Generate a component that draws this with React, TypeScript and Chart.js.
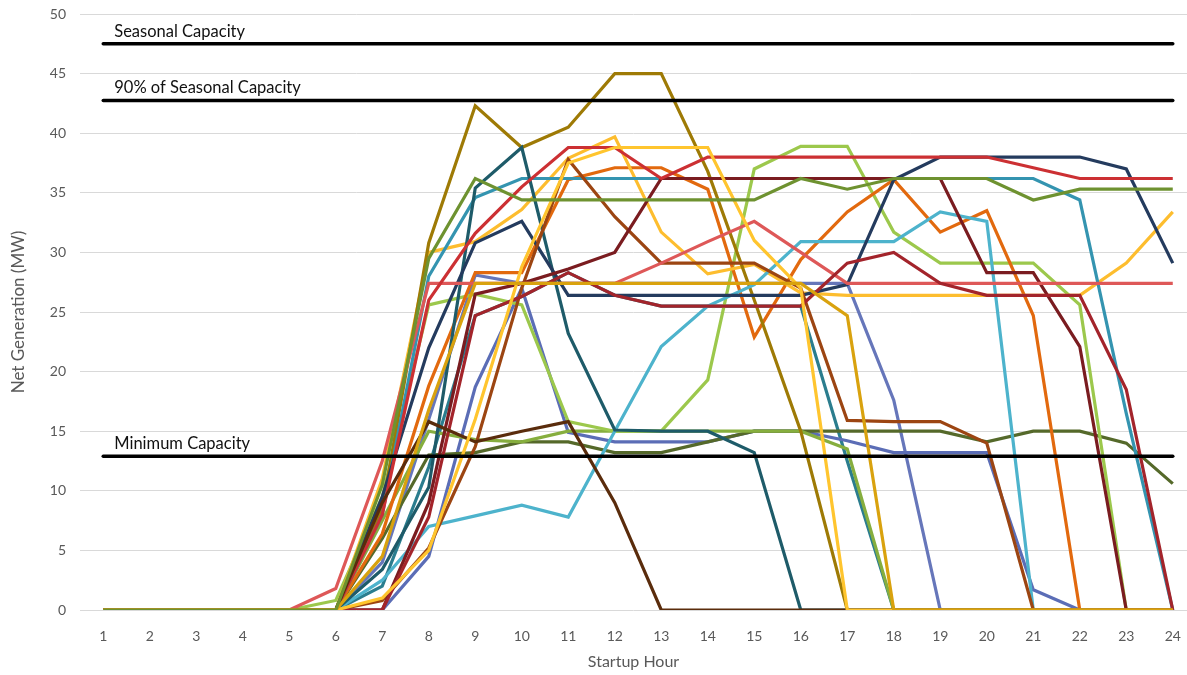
import React, { useEffect, useRef } from "react";
import { Chart, registerables } from "chart.js";

Chart.register(...registerables);

// ---- Data ----
const hours = [1, 2, 3, 4, 5, 6, 7, 8, 9, 10, 11, 12, 13, 14, 15, 16, 17, 18, 19, 20, 21, 22, 23, 24];
const yTicks = [0, 5, 10, 15, 20, 25, 30, 35, 40, 45, 50];

const refLabels = ["Seasonal Capacity", "90% of Seasonal Capacity", "Minimum Capacity"];
const refValues = [47.5, 42.75, 12.9];

const green = [0, 0, 0, 0, 0, 0, 10.5, 29.5, 36.2, 34.4, 34.4, 34.4, 34.4, 34.4, 34.4, 36.2, 35.3, 36.2, 36.2, 36.2, 34.4, 35.3, 35.3, 35.3];
const amber = [0, 0, 0, 0, 0, 0, 4.5, 16.8, 27.4, 27.4, 27.4, 27.4, 27.4, 27.4, 27.4, 27.4, 24.7, 0, 0, 0, 0, 0, 0, 0];
const yellowB = [0, 0, 0, 0, 0, 0, 1, 5, 16, 28.8, 37.5, 38.8, 38.8, 38.8, 31, 27, 0, 0, 0, 0, 0, 0, 0, 0];
const darkBrown = [0, 0, 0, 0, 0, 0, 9, 15.8, 14.1, 15, 15.8, 9, 0, 0, 0, 0, 0, 0, 0, 0, 0, 0, 0, 0];
const crimson = [0, 0, 0, 0, 0, 0, 0, 7.8, 24.7, 26.3, 28.3, 26.4, 25.5, 25.5, 25.5, 25.5, 29.1, 30, 27.4, 26.4, 26.4, 26.4, 18.5, 0];
const red = [0, 0, 0, 0, 0, 0, 8, 26, 31.6, 35.5, 38.8, 38.8, 36.2, 38, 38, 38, 38, 38, 38, 38, 37.1, 36.2, 36.2, 36.2];
const coral = [0, 0, 0, 0, 0, 1.8, 12.5, 27.4, 27.4, 27.4, 27.4, 27.4, 29.1, 30.9, 32.6, 30, 27.4, 27.4, 27.4, 27.4, 27.4, 27.4, 27.4, 27.4];
const maroon = [0, 0, 0, 0, 0, 0, 0, 9, 26.5, 27.4, 28.6, 30, 36.2, 36.2, 36.2, 36.2, 36.2, 36.2, 36.2, 28.3, 28.3, 22.1, 0, 0];
const rust = [0, 0, 0, 0, 0, 0, 0.8, 5.2, 13.7, 27, 37.8, 33, 29.1, 29.1, 29.1, 27, 15.9, 15.8, 15.8, 14, 0, 0, 0, 0];
const navy = [0, 0, 0, 0, 0, 0, 9.5, 22, 30.8, 32.6, 26.4, 26.4, 26.4, 26.4, 26.4, 26.4, 27.3, 36.1, 38, 38, 38, 38, 37, 29.1];
const darkTeal = [0, 0, 0, 0, 0, 0, 3.4, 10.3, 35.4, 38.8, 23.2, 15.1, 15, 15, 13.2, 0, 0, 0, 0, 0, 0, 0, 0, 0];
const tealBlue = [0, 0, 0, 0, 0, 0, 8, 28, 34.6, 36.2, 36.2, 36.2, 36.2, 36.2, 36.2, 36.2, 36.2, 36.2, 36.2, 36.2, 36.2, 34.4, 16.5, 0];
const tealDeep = [0, 0, 0, 0, 0, 0, 2, 12, 24.7, 26.3, 28.3, 26.4, 25.5, 25.5, 25.5, 25.5, 12.5, 0, 0, 0, 0, 0, 0, 0];
const cyan = [0, 0, 0, 0, 0, 0, 2.5, 7, 7.9, 8.8, 7.8, 15, 22.1, 25.5, 27.3, 30.9, 30.9, 30.9, 33.4, 32.6, 0, 0, 0, 0];
const oliveGold = [0, 0, 0, 0, 0, 0, 8.5, 30.8, 42.3, 38.8, 40.5, 45, 45, 36.8, 26, 15, 0, 0, 0, 0, 0, 0, 0, 0];
const yellowA = [0, 0, 0, 0, 0, 0, 11, 30, 30.9, 33.6, 37.9, 39.7, 31.7, 28.2, 29, 26.6, 26.4, 26.4, 26.4, 26.4, 26.4, 26.4, 29.1, 33.4];
const orange = [0, 0, 0, 0, 0, 0, 6.4, 18.8, 28.3, 28.3, 36.1, 37.1, 37.1, 35.3, 22.9, 29.4, 33.4, 36.1, 31.7, 33.5, 24.7, 0, 0, 0];
const lightGreen = [0, 0, 0, 0, 0, 0.8, 9.5, 25.6, 26.5, 25.6, 15.8, 15, 15, 19.3, 37, 38.9, 38.9, 31.7, 29.1, 29.1, 29.1, 25.6, 0, 0];
const yellowGreen = [0, 0, 0, 0, 0, 0, 7.5, 15, 14.3, 14.1, 15, 15, 15, 15, 15, 15, 13.5, 0, 0, 0, 0, 0, 0, 0];
const darkOlive = [0, 0, 0, 0, 0, 0, 6, 13, 13.2, 14.1, 14.1, 13.2, 13.2, 14.1, 15, 15, 15, 15, 15, 14.1, 15, 15, 14, 10.6];
const periwinkle1 = [0, 0, 0, 0, 0, 0, 0, 4.5, 18.7, 27, 14.9, 14.1, 14.1, 14.1, 15, 15, 14.2, 13.2, 13.2, 13.2, 1.7, 0, 0, 0];
const periwinkle2 = [0, 0, 0, 0, 0, 0, 4, 16, 28.1, 27.4, 27.4, 27.4, 27.4, 27.4, 27.4, 27.4, 27.4, 17.6, 0, 0, 0, 0, 0, 0];

// Series styling (lower order = drawn on top)
const seriesList = [
  { values: green, color: "#6E9230", order: 1 },
  { values: amber, color: "#D9A20E", order: 2 },
  { values: yellowB, color: "#FFC52E", order: 3 },
  { values: darkBrown, color: "#5A2C0C", order: 4 },
  { values: crimson, color: "#A3242B", order: 5 },
  { values: red, color: "#CC3033", order: 6 },
  { values: coral, color: "#DE5858", order: 7 },
  { values: maroon, color: "#7A1C20", order: 8 },
  { values: rust, color: "#9C4512", order: 9 },
  { values: navy, color: "#243B5E", order: 10 },
  { values: darkTeal, color: "#1E5B69", order: 11 },
  { values: tealBlue, color: "#3494B0", order: 12 },
  { values: cyan, color: "#4DB3CC", order: 13 },
  { values: oliveGold, color: "#9E7A05", order: 14 },
  { values: yellowA, color: "#FDBD2E", order: 15 },
  { values: orange, color: "#E2690E", order: 16 },
  { values: lightGreen, color: "#9CC84C", order: 17 },
  { values: yellowGreen, color: "#86AE3E", order: 18 },
  { values: darkOlive, color: "#55692A", order: 19 },
  { values: periwinkle1, color: "#5B6DB6", order: 20 },
  { values: periwinkle2, color: "#6676BA", order: 21 },
  { values: tealDeep, color: "#2B7D8E", order: 22 },
];

const FONT = "Lato, 'Open Sans', sans-serif";

const refLabelPlugin = {
  id: "refLabelPlugin",
  afterDatasetsDraw(chart: any) {
    const { ctx, scales } = chart;
    const x = scales.x;
    const y = scales.y;
    ctx.save();
    ctx.font = "16.5px " + FONT;
    ctx.fillStyle = "#111111";
    ctx.textAlign = "left";
    ctx.textBaseline = "alphabetic";
    refValues.forEach((v, i) => {
      ctx.fillText(refLabels[i], x.getPixelForValue(hours[0]) + 11, y.getPixelForValue(v) - 7);
    });
    ctx.restore();
  },
};

export default function App() {
  const canvasRef = useRef<HTMLCanvasElement | null>(null);

  useEffect(() => {
    document.body.style.margin = "0";
    const canvas = canvasRef.current;
    if (!canvas) return;

    const datasets: any[] = [];
    refValues.forEach((v, i) => {
      datasets.push({
        label: refLabels[i],
        data: hours.map((h) => ({ x: h, y: v })),
        borderColor: "#000000",
        borderWidth: 3.5,
        borderCapStyle: "round",
        pointRadius: 0,
        fill: false,
        order: 0,
      });
    });
    seriesList.forEach((s, i) => {
      datasets.push({
        label: "Series " + (i + 1),
        data: hours.map((h, j) => ({ x: h, y: s.values[j] })),
        borderColor: s.color,
        backgroundColor: s.color,
        borderWidth: 3.2,
        borderJoinStyle: "miter",
        pointRadius: 0,
        fill: false,
        tension: 0,
        order: s.order,
      });
    });

    const chart = new Chart(canvas, {
      type: "line",
      data: { datasets },
      options: {
        animation: false,
        responsive: true,
        maintainAspectRatio: false,
        layout: { padding: { top: 14, right: 0, left: 0, bottom: 0 } },
        plugins: {
          legend: { display: false },
          tooltip: { enabled: false },
        },
        scales: {
          x: {
            type: "linear",
            min: 0.5,
            max: 24.306,
            grid: { display: false },
            border: { display: false },
            afterBuildTicks: (axis: any) => {
              axis.ticks = hours.map((h) => ({ value: h }));
            },
            afterFit: (scale: any) => {
              scale.height = 65;
              scale.paddingLeft = 0;
              scale.paddingRight = 0;
              scale.paddingTop = 0;
              scale.paddingBottom = 0;
            },
            ticks: {
              color: "#595959",
              font: { family: FONT, size: 14 },
              padding: 10,
              maxRotation: 0,
              autoSkip: false,
              callback: (v: any) => String(v),
            },
            title: {
              display: true,
              text: "Startup Hour",
              color: "#595959",
              font: { family: FONT, size: 16 },
              padding: { top: 4, bottom: 4 },
            },
          },
          y: {
            type: "linear",
            min: 0,
            max: 50,
            grid: { color: "#D9D9D9", lineWidth: 1, drawTicks: false },
            border: { display: false },
            afterBuildTicks: (axis: any) => {
              axis.ticks = yTicks.map((t) => ({ value: t }));
            },
            afterFit: (scale: any) => {
              scale.width = 80;
              scale.paddingTop = 0;
              scale.paddingBottom = 0;
              scale.paddingLeft = 0;
              scale.paddingRight = 0;
            },
            ticks: {
              color: "#595959",
              font: { family: FONT, size: 14 },
              padding: 14,
            },
            title: {
              display: true,
              text: "Net Generation (MW)",
              color: "#595959",
              font: { family: FONT, size: 17 },
              padding: { top: 8, bottom: 0 },
            },
          },
        },
      },
      plugins: [refLabelPlugin],
    } as any);

    return () => {
      chart.destroy();
    };
  }, []);

  return (
    <div style={{ position: "relative", width: "1187px", height: "675px", background: "#ffffff" }}>
      <canvas ref={canvasRef} />
    </div>
  );
}
